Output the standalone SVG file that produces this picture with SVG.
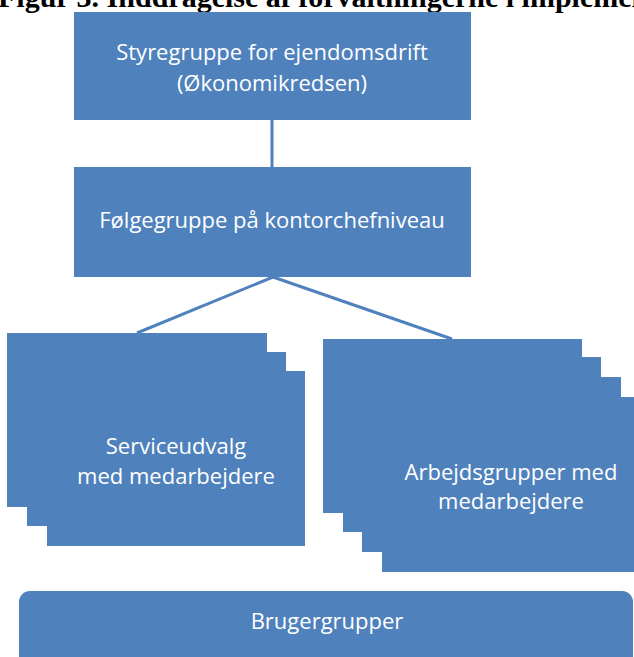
<svg xmlns="http://www.w3.org/2000/svg" width="634" height="657" viewBox="0 0 634 657">
<style>
.box{fill:#4F81BD;}
.lbl{font-family:"Open Sans","Noto Sans","Liberation Sans",sans-serif;font-size:22px;fill:#FFFFFF;text-anchor:middle;}
.conn{stroke:#4F81BD;stroke-width:3;fill:none;}
.title{font-family:"Liberation Serif",serif;font-weight:bold;font-size:30px;fill:#000000;}
</style>
<rect width="634" height="657" fill="#FFFFFF"/>
<text class="title" x="-2" y="7">Figur 3. Inddragelse af forvaltningerne i implemen</text>
<g id="connectors">
<line class="conn" x1="272" y1="120" x2="272" y2="167"/>
<line class="conn" x1="273" y1="277" x2="137" y2="333"/>
<line class="conn" x1="273" y1="277" x2="452" y2="339"/>
</g>
<g id="styregruppe">
<rect class="box" x="74" y="12" width="397" height="108"/>
<text class="lbl" x="272" y="60">Styregruppe for ejendomsdrift</text>
<text class="lbl" x="272" y="91">(Økonomikredsen)</text>
</g>
<g id="foelgegruppe">
<rect class="box" x="74" y="167" width="397" height="110"/>
<text class="lbl" x="272" y="228">Følgegruppe på kontorchefniveau</text>
</g>
<g id="serviceudvalg">
<rect class="box" x="7" y="333" width="260" height="174"/>
<rect class="box" x="27" y="352" width="259" height="174"/>
<rect class="box" x="47" y="371" width="258" height="175"/>
<text class="lbl" x="176" y="454">Serviceudvalg</text>
<text class="lbl" x="176" y="484">med medarbejdere</text>
</g>
<g id="arbejdsgrupper">
<rect class="box" x="323" y="339" width="259" height="174"/>
<rect class="box" x="343" y="357" width="258" height="175"/>
<rect class="box" x="362" y="377" width="259" height="175"/>
<rect class="box" x="382" y="397" width="259" height="175"/>
<text class="lbl" x="511" y="480">Arbejdsgrupper med</text>
<text class="lbl" x="511" y="509">medarbejdere</text>
</g>
<g id="brugergrupper">
<rect class="box" x="19" y="591" width="614" height="90" rx="11" ry="11"/>
<text class="lbl" x="327" y="629">Brugergrupper</text>
</g>
</svg>
